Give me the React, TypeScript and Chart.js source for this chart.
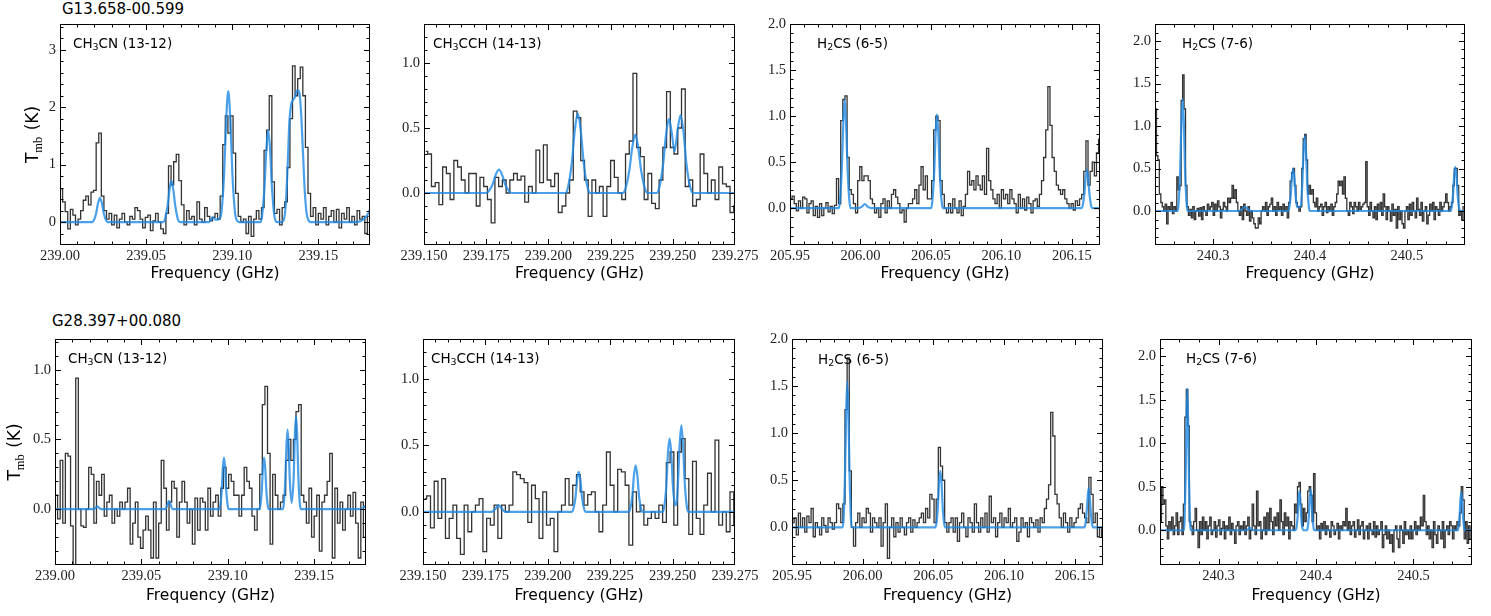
import { useEffect, useRef } from "react";
import { Chart, registerables } from "chart.js";

Chart.register(...registerables);

// Width of one spectral channel in GHz; spectra are listed channel by channel (K).
const CHANNEL_GHZ = 0.0015;

const SOURCE_TOP = "G13.658-00.599";
const SOURCE_BOTTOM = "G28.397+00.080";

// "_x" marks x as a subscript
const LABEL_CH3CN = "CH_3CN (13-12)";
const LABEL_CH3CCH = "CH_3CCH (14-13)";
const LABEL_H2CS_65 = "H_2CS (6-5)";
const LABEL_H2CS_76 = "H_2CS (7-6)";

const X_TITLE = "Frequency (GHz)";

// Tick values
const xTicksCh3cn = [239.0, 239.05, 239.1, 239.15];
const xTicksCh3cch = [239.15, 239.175, 239.2, 239.225, 239.25, 239.275];
const xTicksH2cs65 = [205.95, 206.0, 206.05, 206.1, 206.15];
const xTicksH2cs76 = [240.3, 240.4, 240.5];
const yTicksWhole = [0, 1, 2, 3];
const yTicksLow = [0, 0.5, 1.0];
const yTicksHigh = [0, 0.5, 1.0, 1.5, 2.0];

// ---------------- G13.658-00.599 ----------------
const g13Ch3cnStart = 239.0;
const g13Ch3cn = [
  0.58, 0.35, 0.18, -0.12, 0.22, 0.12, -0.05, 0.05, 0.2, 0.38,
  0.45, 0.3, 0.52, 0.55, 1.38, 1.55, 0.45, 0.2, 0.05, 0.15,
  -0.05, 0.12, -0.1, 0.05, 0.15, 0.0, -0.05, 0.1, 0.05, 0.25,
  0.2, 0.05, -0.1, 0.08, 0.12, -0.15, 0.02, 0.15, 0.0, -0.12,
  -0.2, 0.15, 0.98, 0.65, 1.05, 1.18, 0.72, 0.3, -0.05, 0.2,
  0.05, 0.1, -0.05, 0.35, 0.05, 0.0, 0.25, 0.1, 0.02, 0.08,
  0.15, 0.05, 0.45, 1.35, 1.85, 1.55, 1.85, 1.2, 0.5, 0.1,
  0.0, 0.05, -0.2, 0.1, -0.25, 0.05, 0.2, 0.05, 0.25, 1.25,
  1.6, 2.2, 0.7, 0.15, 0.22, -0.05, 0.25, 0.35, 0.95, 1.8,
  2.72, 2.2, 2.5, 2.7, 2.2, 1.3, 0.5, 0.1, 0.25, -0.05,
  0.15, 0.05, 0.25, -0.05, 0.1, 0.2, 0.0, 0.22, -0.1, 0.15,
  0.05, 0.25, 0.0, 0.1, -0.05, 0.2, 0.05, 0.1, -0.2, 0.1,
];
const g13Ch3cnModel: [number, number][] = [
  [239.0, 0], [239.0187, 0], [239.0196, 0.025], [239.021, 0.155], [239.0221, 0.33], [239.0232, 0.42],
  [239.0243, 0.33], [239.0254, 0.155], [239.0268, 0.025], [239.0277, 0],
  [239.06, 0], [239.0609, 0.045], [239.0624, 0.27], [239.0636, 0.56], [239.0647, 0.72],
  [239.0658, 0.56], [239.067, 0.27], [239.0685, 0.045], [239.0695, 0],
  [239.0865, 0], [239.0877, 0.05], [239.0887, 0.08], [239.0899, 0.05], [239.0912, 0.04],
  [239.0927, 0.06], [239.0937, 0.16], [239.0953, 0.84], [239.0965, 1.78], [239.0977, 2.28],
  [239.0989, 1.78], [239.1001, 0.84], [239.1017, 0.14], [239.1027, 0.03], [239.104, 0],
  [239.1164, 0], [239.1173, 0.1], [239.1187, 0.59], [239.1198, 1.25], [239.1209, 1.6],
  [239.122, 1.25], [239.1231, 0.59], [239.1245, 0.1], [239.1254, 0.01], [239.1262, 0],
  [239.1288, 0], [239.13, 0.04], [239.1312, 0.35], [239.1322, 1.0], [239.1332, 1.75],
  [239.1342, 2.05], [239.1352, 2.12], [239.1365, 2.18], [239.1378, 2.3], [239.139, 2.25],
  [239.14, 1.9], [239.1411, 1.2], [239.1421, 0.55], [239.1432, 0.15], [239.1445, 0.02], [239.1455, 0],
  [239.172, 0], [239.176, 0.04], [239.179, 0.15], [239.18, 0.22],
];

const g13Ch3cchStart = 239.15;
const g13Ch3cch = [
  0.32, 0.3, 0.05, 0.08, -0.09, 0.2, 0.15, -0.05, 0.25, 0.2,
  0.1, 0.0, 0.15, 0.15, -0.1, 0.12, 0.05, -0.05, -0.23, 0.12,
  0.05, 0.1, 0.0, 0.1, 0.15, 0.1, 0.13, -0.07, 0.05, 0.0,
  0.33, 0.08, 0.37, 0.1, 0.05, 0.15, -0.15, -0.1, 0.0, 0.1,
  0.63, 0.58, 0.25, 0.1, -0.18, 0.1, 0.0, 0.05, -0.18, 0.05,
  0.25, 0.12, 0.0, -0.05, 0.3, 0.4, 0.92, 0.35, 0.28, -0.05,
  0.15, -0.08, -0.12, 0.1, 0.35, 0.78, 0.35, 0.3, 0.5, 0.8,
  0.05, 0.1, -0.1, -0.05, 0.3, 0.15, 0.0, 0.1, -0.05, 0.2,
  0.07, 0.05, -0.15, -0.1,
];
const g13Ch3cchModel: [number, number][] = [
  [239.15, 0], [239.1749, 0], [239.1759, 0.011], [239.1776, 0.067], [239.1788, 0.14], [239.1801, 0.18],
  [239.1814, 0.14], [239.1826, 0.067], [239.1843, 0.011], [239.1853, 0],
  [239.2068, 0], [239.2078, 0.038], [239.2094, 0.23], [239.2106, 0.48], [239.2118, 0.61],
  [239.213, 0.48], [239.2142, 0.23], [239.2158, 0.038], [239.2168, 0],
  [239.2299, 0], [239.2309, 0.028], [239.2325, 0.17], [239.2337, 0.35], [239.2349, 0.45],
  [239.2361, 0.35], [239.2373, 0.17], [239.2389, 0.028], [239.2399, 0],
  [239.2435, 0], [239.2445, 0.036], [239.2461, 0.22], [239.2473, 0.45], [239.2485, 0.57],
  [239.2496, 0.46], [239.2507, 0.32], [239.2519, 0.48], [239.2531, 0.6], [239.2543, 0.47],
  [239.2555, 0.22], [239.2571, 0.038], [239.2581, 0], [239.275, 0],
];

const g13H2cs65Start = 205.95;
const g13H2cs65 = [
  0.1, 0.13, 0.05, -0.03, 0.08, 0.0, 0.12, 0.1, -0.05, 0.05,
  0.08, -0.08, 0.02, -0.1, 0.05, -0.08, 0.0, 0.06, -0.04, 0.02,
  -0.06, 0.03, 0.32, 0.05, 0.95, 1.18, 1.22, 0.55, 0.2, 0.15,
  0.05, -0.05, 0.3, 0.45, 0.3, 0.35, 0.35, 0.3, 0.1, 0.05,
  -0.05, 0.0, -0.1, 0.05, 0.1, -0.05, 0.08, 0.0, 0.15, 0.2,
  0.12, 0.05, -0.05, -0.02, -0.15, 0.0, 0.05, 0.05, 0.1, 0.2,
  0.05, 0.25, 0.45, 0.2, 0.35, 0.1, 0.1, 0.3, 0.85, 1.0,
  0.95, 0.3, 0.15, 0.0, -0.05, 0.05, -0.05, 0.1, 0.0, -0.05,
  0.08, -0.08, 0.02, 0.15, 0.4, 0.25, 0.3, 0.2, 0.35, 0.25,
  0.2, 0.35, 0.15, 0.65, 0.3, 0.2, 0.1, 0.05, 0.15, 0.0,
  0.2, 0.1, 0.15, 0.05, 0.2, 0.1, 0.05, -0.05, 0.15, 0.0,
  0.1, -0.02, 0.12, 0.05, -0.05, 0.08, 0.1, 0.02, 0.15, 0.3,
  0.55, 0.85, 1.32, 0.9, 0.55, 0.4, 0.25, 0.2, 0.15, 0.2,
  0.1, 0.05, 0.0, 0.05, -0.02, 0.08, 0.03, 0.1, 0.15, 0.4,
  0.73, 0.25, 0.4, 0.5, 0.35, 0.6, 0.75,
];
const g13H2cs65Model: [number, number][] = [
  [205.95, 0], [205.9846, 0], [205.9854, 0.07], [205.9868, 0.44], [205.9878, 0.92], [205.9888, 1.18],
  [205.9898, 0.92], [205.9908, 0.44], [205.9922, 0.07], [205.993, 0],
  [205.9985, 0], [206.0011, 0.017], [206.0031, 0.045], [206.0051, 0.017], [206.0077, 0],
  [206.0501, 0], [206.0509, 0.06], [206.0523, 0.38], [206.0533, 0.8], [206.0543, 1.02],
  [206.0553, 0.8], [206.0563, 0.38], [206.0577, 0.06], [206.0585, 0],
  [206.157, 0], [206.1577, 0.025], [206.1589, 0.155], [206.1598, 0.33], [206.1607, 0.42],
  [206.1616, 0.33], [206.1625, 0.155], [206.1637, 0.025], [206.1644, 0], [206.17, 0],
];

const g13H2cs76Start = 240.24;
const g13H2cs76 = [
  1.2, 0.65, 0.6, 0.2, 0.1, 0.05, 0.0, 0.08, -0.15, 0.05,
  0.02, 0.1, -0.03, 0.05, 0.0, 0.4, 0.25, 0.3, 1.3, 1.6,
  1.2, 0.3, 0.05, -0.05, 0.02, -0.08, 0.05, -0.1, 0.0, 0.03,
  -0.06, 0.04, -0.1, 0.05, 0.0, -0.05, 0.08, 0.02, 0.05, 0.1,
  -0.05, 0.08, 0.0, 0.12, 0.05, -0.08, 0.02, 0.1, 0.05, 0.0,
  0.15, 0.1, 0.15, 0.3, 0.15, 0.25, 0.1, 0.0, -0.05, 0.05,
  -0.1, 0.08, 0.0, -0.05, 0.05, -0.12, 0.0, -0.08, -0.15, -0.2,
  -0.2, -0.08, -0.15, 0.0, 0.05, 0.0, 0.1, -0.05, 0.05, 0.08,
  0.15, 0.0, 0.05, -0.05, 0.1, 0.02, 0.05, -0.05, 0.08, 0.0,
  0.05, -0.08, 0.1, 0.35, 0.45, 0.5, 0.3, 0.1, 0.05, 0.0,
  0.05, 0.5, 0.85, 0.9, 0.6, 0.2, 0.3, 0.2, 0.25, 0.1,
  0.05, 0.15, 0.0, 0.05, 0.08, -0.05, 0.05, 0.1, -0.02, 0.05,
  0.0, 0.08, -0.05, 0.05, 0.1, 0.2, 0.35, 0.3, 0.35, 0.2,
  0.4, 0.15, 0.0, -0.05, 0.1, 0.05, -0.03, 0.1, 0.05, 0.0,
  0.1, 0.02, 0.05, 0.08, 0.1, 0.58, 0.05, -0.05, 0.1, 0.0,
  -0.08, 0.05, -0.1, 0.08, 0.0, 0.1, -0.05, 0.2, 0.05, -0.1,
  0.05, 0.0, -0.12, 0.08, -0.05, 0.02, -0.2, 0.05, -0.1, 0.0,
  -0.15, -0.2, 0.0, 0.05, -0.1, 0.08, -0.05, 0.1, 0.0, -0.08,
  0.15, 0.02, -0.05, 0.1, -0.12, 0.0, 0.05, -0.15, -0.05, 0.08,
  0.0, 0.1, -0.1, 0.05, 0.02, -0.05, 0.1, 0.0, 0.05, 0.1,
  0.2, 0.1, 0.0, 0.05, 0.1, 0.3, 0.5, 0.5, 0.3, -0.05,
  0.0, -0.1, 0.05,
];
const g13H2cs76Model: [number, number][] = [
  [240.24, 0], [240.2633, 0], [240.2643, 0.08], [240.266, 0.49], [240.2672, 1.03], [240.2685, 1.32],
  [240.2698, 1.03], [240.271, 0.49], [240.2727, 0.08], [240.2737, 0],
  [240.3266, 0], [240.3298, 0.02], [240.3328, 0.05], [240.3358, 0.02], [240.339, 0],
  [240.3774, 0], [240.3784, 0.03], [240.3801, 0.185], [240.3813, 0.39], [240.3826, 0.5],
  [240.3839, 0.39], [240.3851, 0.185], [240.3868, 0.05], [240.3884, 0.04], [240.3904, 0.06],
  [240.3921, 0.33], [240.3933, 0.69], [240.3946, 0.88], [240.3959, 0.69], [240.3971, 0.33],
  [240.3988, 0.055], [240.3998, 0],
  [240.545, 0], [240.546, 0.03], [240.5476, 0.19], [240.5488, 0.41], [240.55, 0.52],
  [240.5512, 0.41], [240.5524, 0.19], [240.554, 0.03], [240.555, 0], [240.56, 0],
];

// ---------------- G28.397+00.080 ----------------
const g28Ch3cnStart = 239.0;
const g28Ch3cn = [
  0.1, -0.07, 0.35, -0.1, 0.4, 0.38, -0.12, -0.4, 0.94, 0.0,
  -0.12, -0.13, 0.0, 0.3, 0.25, -0.1, 0.2, 0.1, 0.25, -0.05,
  0.05, 0.1, -0.1, 0.0, -0.05, 0.05, 0.0, 0.05, 0.15, -0.25,
  -0.1, 0.05, -0.2, -0.28, -0.15, -0.05, -0.15, -0.35, 0.05, -0.35,
  -0.1, 0.35, 0.15, -0.15, 0.05, 0.2, 0.15, -0.2, 0.05, 0.2,
  0.05, -0.1, 0.0, -0.25, 0.08, -0.15, 0.08, 0.05, -0.15, 0.15,
  -0.05, 0.05, 0.1, -0.05, 0.15, 0.3, 0.15, 0.25, 0.2, 0.1,
  0.1, -0.05, 0.1, 0.3, 0.2, 0.15, -0.05, -0.15, 0.0, 0.25,
  0.75, 0.88, 0.4, -0.25, 0.25, 0.1, 0.0, 0.05, 0.1, 0.35,
  0.5, 0.35, 0.5, 0.7, 0.75, 0.1, 0.05, -0.1, 0.15, -0.2,
  -0.05, 0.1, -0.3, 0.05, 0.1, 0.2, 0.4, -0.35, 0.15, -0.1,
  0.05, -0.15, 0.0, 0.1, -0.05, 0.12, -0.1, -0.35, 0.05, -0.2,
];
const g28Ch3cnModel: [number, number][] = [
  [239.0, 0], [239.0225, 0], [239.0235, 0.01], [239.0245, 0.02], [239.0255, 0.01], [239.0265, 0],
  [239.064, 0], [239.065, 0.03], [239.066, 0.06], [239.067, 0.03], [239.068, 0],
  [239.095, 0], [239.0956, 0.022], [239.0965, 0.137], [239.0971, 0.29], [239.0978, 0.37],
  [239.0985, 0.29], [239.0991, 0.137], [239.1, 0.022], [239.1006, 0],
  [239.1182, 0], [239.1188, 0.022], [239.1197, 0.137], [239.1203, 0.29], [239.121, 0.37],
  [239.1217, 0.29], [239.1223, 0.137], [239.1232, 0.022], [239.1238, 0],
  [239.1318, 0], [239.1324, 0.034], [239.1333, 0.21], [239.1339, 0.44], [239.1346, 0.57],
  [239.1353, 0.44], [239.1359, 0.21], [239.137, 0.045], [239.1382, 0.25], [239.1388, 0.52],
  [239.1395, 0.67], [239.1402, 0.52], [239.1408, 0.25], [239.1417, 0.04], [239.1423, 0],
  [239.177, 0], [239.18, 0.03],
];

const g28Ch3cchStart = 239.15;
const g28Ch3cch = [
  0.1, 0.12, -0.12, 0.23, -0.05, 0.25, -0.2, -0.05, 0.05, -0.2,
  -0.32, 0.05, -0.15, 0.0, 0.05, 0.1, -0.3, -0.05, -0.1, 0.05,
  -0.2, 0.05, 0.0, 0.05, 0.3, 0.28, 0.25, 0.22, -0.08, 0.2,
  0.1, -0.2, 0.15, -0.1, -0.05, -0.3, 0.0, 0.05, 0.25, 0.05,
  0.2, 0.28, 0.15, 0.05, 0.13, 0.15, 0.0, -0.15, 0.05, 0.45,
  0.2, 0.0, 0.32, 0.3, 0.2, -0.25, 0.15, 0.0, 0.05, -0.1,
  -0.05, 0.0, -0.05, 0.05, -0.08, 0.37, 0.45, -0.1, 0.45, 0.55,
  0.25, -0.17, 0.38, -0.05, -0.17, 0.05, 0.29, 0.0, 0.54, -0.1,
  0.0, -0.15, 0.15, -0.1,
];
const g28Ch3cchModel: [number, number][] = [
  [239.15, 0], [239.1775, 0], [239.1789, 0.02], [239.1803, 0.05], [239.1817, 0.02], [239.1831, 0],
  [239.2096, 0], [239.2102, 0.018], [239.2111, 0.11], [239.2117, 0.235], [239.2124, 0.3],
  [239.2131, 0.235], [239.2137, 0.11], [239.2146, 0.018], [239.2152, 0],
  [239.2324, 0], [239.233, 0.021], [239.2339, 0.13], [239.2345, 0.27], [239.2352, 0.35],
  [239.2359, 0.27], [239.2365, 0.13], [239.2374, 0.021], [239.238, 0],
  [239.246, 0], [239.2466, 0.033], [239.2475, 0.2], [239.2481, 0.43], [239.2488, 0.55],
  [239.2495, 0.43], [239.2501, 0.2], [239.251, 0.05], [239.2516, 0.07], [239.2522, 0.24],
  [239.2528, 0.5], [239.2535, 0.65], [239.2542, 0.5], [239.2548, 0.24], [239.2557, 0.04],
  [239.2563, 0], [239.275, 0],
];

const g28H2cs65Start = 205.95;
const g28H2cs65 = [
  0.05, 0.1, -0.08, 0.15, 0.0, 0.1, -0.05, 0.12, 0.05, 0.2,
  -0.1, 0.05, 0.0, -0.08, 0.1, 0.02, -0.05, 0.1, 0.05, -0.02,
  0.05, 0.25, 0.2, 0.05, 0.25, 1.25, 1.8, 0.6, 0.0, -0.2,
  0.05, 0.15, 0.0, 0.1, 0.05, 0.2, 0.15, -0.05, 0.1, 0.05,
  0.0, 0.1, -0.2, 0.05, 0.25, -0.33, 0.0, 0.1, -0.1, 0.05,
  -0.05, 0.1, 0.0, -0.08, 0.05, 0.1, -0.05, 0.08, 0.0, 0.05,
  0.1, 0.15, 0.05, 0.2, 0.1, 0.35, 0.3, 0.05, 0.3, 0.85,
  0.65, 0.5, 0.05, -0.05, 0.05, 0.1, -0.05, 0.1, -0.15, 0.05,
  0.15, 0.0, -0.1, 0.1, 0.05, -0.05, 0.25, 0.05, -0.05, 0.1,
  0.0, 0.15, -0.05, 0.33, 0.05, 0.1, -0.1, 0.05, 0.15, 0.0,
  0.1, 0.05, 0.2, 0.0, 0.05, 0.1, -0.15, -0.05, 0.1, 0.0,
  0.05, -0.1, 0.1, 0.05, 0.0, 0.08, -0.05, 0.1, 0.05, 0.2,
  0.3, 0.45, 1.22, 0.97, 0.35, 0.25, 0.1, 0.0, 0.15, 0.05,
  -0.05, 0.1, 0.0, 0.05, 0.1, 0.2, 0.25, 0.15, 0.1, 0.05,
  0.53, 0.35, 0.05, 0.15, -0.1, 0.0, -0.1,
];
const g28H2cs65Model: [number, number][] = [
  [205.95, 0], [205.9858, 0], [205.9865, 0.09], [205.9875, 0.57], [205.9883, 1.21], [205.9891, 1.55],
  [205.9899, 1.21], [205.9907, 0.57], [205.9917, 0.09], [205.9924, 0],
  [206.0514, 0], [206.0521, 0.036], [206.0532, 0.22], [206.054, 0.47], [206.0549, 0.6],
  [206.0558, 0.47], [206.0566, 0.22], [206.0577, 0.036], [206.0584, 0],
  [206.1568, 0], [206.1574, 0.025], [206.1584, 0.155], [206.1592, 0.33], [206.1599, 0.42],
  [206.1606, 0.33], [206.1614, 0.155], [206.1624, 0.025], [206.163, 0], [206.17, 0],
];

const g28H2cs76Start = 240.24;
const g28H2cs76 = [
  0.1, 0.5, 0.3, 0.35, 0.05, -0.1, 0.1, 0.0, 0.15, -0.05,
  0.05, 0.2, -0.05, 0.1, 0.15, -0.05, 0.3, 1.3, 1.62, 1.2,
  0.1, 0.05, -0.05, 0.1, 0.25, 0.0, -0.2, 0.1, -0.05, 0.15,
  0.0, 0.1, -0.1, 0.05, 0.15, -0.05, 0.0, 0.1, -0.08, 0.05,
  0.12, -0.05, 0.02, 0.1, -0.1, 0.05, 0.0, 0.15, -0.05, 0.08,
  0.0, -0.15, 0.05, 0.1, -0.05, 0.05, 0.0, 0.1, -0.05, 0.05,
  0.15, -0.1, 0.0, 0.3, 0.05, -0.05, 0.45, 0.05, 0.1, -0.1,
  0.0, 0.15, -0.05, 0.2, 0.0, 0.25, 0.1, -0.05, 0.15, 0.05,
  0.2, 0.0, 0.35, 0.1, -0.05, 0.2, 0.05, 0.15, -0.1, 0.1,
  0.05, 0.0, 0.3, 0.2, 0.5, 0.55, 0.3, 0.05, 0.25, 0.1,
  0.2, 0.45, 0.5, 0.4, 0.1, 0.65, 0.2, 0.0, 0.05, -0.1,
  0.08, 0.0, 0.1, -0.05, 0.05, 0.0, -0.08, 0.1, 0.05, -0.05,
  0.0, 0.08, -0.1, 0.05, 0.0, 0.1, 0.05, 0.25, 0.0, 0.1,
  -0.05, 0.05, 0.1, -0.08, 0.0, 0.12, -0.05, 0.05, 0.1, -0.1,
  0.0, 0.05, -0.1, 0.08, 0.0, -0.05, 0.1, -0.08, 0.05, -0.05,
  0.0, 0.1, -0.2, -0.05, 0.05, -0.1, 0.0, -0.15, -0.05, -0.25,
  0.0, 0.05, -0.1, -0.2, 0.05, 0.0, -0.15, 0.1, -0.05, 0.0,
  -0.1, 0.05, -0.1, 0.0, 0.1, -0.05, 0.05, 0.0, 0.15, 0.05,
  0.4, 0.1, -0.05, 0.05, -0.1, 0.0, -0.2, 0.1, -0.05, -0.15,
  0.05, 0.0, -0.1, 0.1, -0.2, 0.0, 0.05, -0.05, 0.1, 0.05,
  -0.1, 0.05, 0.0, 0.1, 0.05, 0.2, 0.5, 0.35, -0.1, 0.1,
  -0.15, 0.05, -0.1,
];
const g28H2cs76Model: [number, number][] = [
  [240.24, 0], [240.2645, 0], [240.2652, 0.1], [240.2663, 0.6], [240.2672, 1.27], [240.268, 1.63],
  [240.2688, 1.27], [240.2697, 0.6], [240.2708, 0.1], [240.2715, 0],
  [240.3293, 0], [240.3323, 0.03], [240.3353, 0],
  [240.3792, 0], [240.38, 0.027], [240.3812, 0.17], [240.3821, 0.35], [240.383, 0.45],
  [240.3839, 0.35], [240.3848, 0.17], [240.386, 0.027], [240.3868, 0],
  [240.3907, 0], [240.3915, 0.028], [240.3927, 0.17], [240.3936, 0.37], [240.3945, 0.47],
  [240.3954, 0.37], [240.3963, 0.17], [240.3975, 0.028], [240.3983, 0],
  [240.5452, 0], [240.546, 0.026], [240.5472, 0.16], [240.5481, 0.34], [240.549, 0.44],
  [240.5499, 0.34], [240.5508, 0.16], [240.552, 0.026], [240.5528, 0], [240.56, 0],
];

// ---------------- layout ----------------
const PAD_RIGHT = 30;
const PAD_BOTTOM = 46;
const SANS = '"DejaVu Sans", sans-serif';
const SERIF = '"Liberation Serif", serif';

type Axis = { min: number; max: number; ticks: number[]; decimals: number; minor: number };
type PanelSpec = {
  frame: { left: number; top: number; width: number; height: number };
  canvasLeft: number;
  canvasTop: number;
  x: Axis;
  y: Axis;
  start: number;
  values: number[];
  model: [number, number][];
  label: string;
  labelDx: number;
  labelDy: number;
  yTitleX?: number;
  xTitleGap: number;
};

const TOP_ROW = { top: 24, height: 221, canvasTop: 0, xTitleGap: 29 };
const BOTTOM_ROW = { top: 339, height: 226, canvasTop: 318, xTitleGap: 31 };

const xCh3cn = { min: 239.0, max: 239.18, ticks: xTicksCh3cn, decimals: 2, minor: 0.01 };
const xCh3cch = { min: 239.15, max: 239.275, ticks: xTicksCh3cch, decimals: 3, minor: 0.005 };
const xH2cs65 = { min: 205.95, max: 206.17, ticks: xTicksH2cs65, decimals: 2, minor: 0.01 };
const xH2cs76 = { min: 240.24, max: 240.56, ticks: xTicksH2cs76, decimals: 1, minor: 0.02 };

function panel(
  row: typeof TOP_ROW,
  left: number,
  width: number,
  firstColumn: boolean,
  rest: Omit<PanelSpec, "frame" | "canvasLeft" | "canvasTop" | "xTitleGap">
): PanelSpec {
  return {
    frame: { left, top: row.top, width, height: row.height },
    canvasLeft: firstColumn ? 0 : left - 46,
    canvasTop: row.canvasTop,
    xTitleGap: row.xTitleGap,
    ...rest,
  };
}

const PANELS: PanelSpec[] = [
  panel(TOP_ROW, 60, 310, true, {
    x: xCh3cn,
    y: { min: -0.4, max: 3.45, ticks: yTicksWhole, decimals: 0, minor: 0.2 },
    start: g13Ch3cnStart, values: g13Ch3cn, model: g13Ch3cnModel,
    label: LABEL_CH3CN, labelDx: 13, labelDy: 20, yTitleX: 34,
  }),
  panel(TOP_ROW, 424, 311, false, {
    x: xCh3cch,
    y: { min: -0.4, max: 1.3, ticks: yTicksLow, decimals: 1, minor: 0.1 },
    start: g13Ch3cchStart, values: g13Ch3cch, model: g13Ch3cchModel,
    label: LABEL_CH3CCH, labelDx: 9, labelDy: 20,
  }),
  panel(TOP_ROW, 790, 310, false, {
    x: xH2cs65,
    y: { min: -0.4, max: 2.0, ticks: yTicksHigh, decimals: 1, minor: 0.1 },
    start: g13H2cs65Start, values: g13H2cs65, model: g13H2cs65Model,
    label: LABEL_H2CS_65, labelDx: 27, labelDy: 20,
  }),
  panel(TOP_ROW, 1155, 310, false, {
    x: xH2cs76,
    y: { min: -0.4, max: 2.2, ticks: yTicksHigh, decimals: 1, minor: 0.1 },
    start: g13H2cs76Start, values: g13H2cs76, model: g13H2cs76Model,
    label: LABEL_H2CS_76, labelDx: 27, labelDy: 20,
  }),
  panel(BOTTOM_ROW, 55, 311, true, {
    x: xCh3cn,
    y: { min: -0.4, max: 1.22, ticks: yTicksLow, decimals: 1, minor: 0.1 },
    start: g28Ch3cnStart, values: g28Ch3cn, model: g28Ch3cnModel,
    label: LABEL_CH3CN, labelDx: 13, labelDy: 20, yTitleX: 16,
  }),
  panel(BOTTOM_ROW, 423, 312, false, {
    x: xCh3cch,
    y: { min: -0.4, max: 1.3, ticks: yTicksLow, decimals: 1, minor: 0.1 },
    start: g28Ch3cchStart, values: g28Ch3cch, model: g28Ch3cchModel,
    label: LABEL_CH3CCH, labelDx: 8, labelDy: 20,
  }),
  panel(BOTTOM_ROW, 792, 311, false, {
    x: xH2cs65,
    y: { min: -0.4, max: 2.0, ticks: yTicksHigh, decimals: 1, minor: 0.1 },
    start: g28H2cs65Start, values: g28H2cs65, model: g28H2cs65Model,
    label: LABEL_H2CS_65, labelDx: 26, labelDy: 21,
  }),
  panel(BOTTOM_ROW, 1160, 312, false, {
    x: xH2cs76,
    y: { min: -0.4, max: 2.2, ticks: yTicksHigh, decimals: 1, minor: 0.1 },
    start: g28H2cs76Start, values: g28H2cs76, model: g28H2cs76Model,
    label: LABEL_H2CS_76, labelDx: 26, labelDy: 20,
  }),
];

// Text with "_x" subscripts, left aligned, vertically centred on y
function drawRichText(ctx: CanvasRenderingContext2D, text: string, x: number, y: number, size: number) {
  const parts: { t: string; sub: boolean }[] = [];
  for (let i = 0; i < text.length; i++) {
    if (text[i] === "_" && i + 1 < text.length) {
      parts.push({ t: text[i + 1], sub: true });
      i++;
    } else if (parts.length && !parts[parts.length - 1].sub) {
      parts[parts.length - 1].t += text[i];
    } else {
      parts.push({ t: text[i], sub: false });
    }
  }
  ctx.textAlign = "left";
  ctx.textBaseline = "middle";
  let cx = x;
  for (const p of parts) {
    const s = p.sub ? size * 0.7 : size;
    ctx.font = `${s}px ${SANS}`;
    ctx.fillText(p.t, cx, p.sub ? y + size * 0.25 : y);
    cx += ctx.measureText(p.t).width;
  }
}

function minorValues(axis: Axis): number[] {
  const out: number[] = [];
  const k0 = Math.ceil(axis.min / axis.minor - 1e-6);
  const k1 = Math.floor(axis.max / axis.minor + 1e-6);
  for (let k = k0; k <= k1; k++) {
    const v = k * axis.minor;
    if (!axis.ticks.some((t) => Math.abs(t - v) < axis.minor * 0.05)) out.push(v);
  }
  return out;
}

function makeDecorations(spec: PanelSpec) {
  return {
    id: "panelDecorations",
    afterDraw(chart: Chart) {
      const { ctx, chartArea } = chart;
      const xs = chart.scales.x;
      const ys = chart.scales.y;
      const L = Math.round(chartArea.left) + 0.5;
      const R = Math.round(chartArea.right) - 0.5;
      const T = Math.round(chartArea.top) + 0.5;
      const B = Math.round(chartArea.bottom) - 0.5;
      ctx.save();
      ctx.strokeStyle = "#000";
      ctx.lineWidth = 1;
      ctx.beginPath();
      const xTick = (v: number, len: number) => {
        const px = Math.round(xs.getPixelForValue(v)) + 0.5;
        if (px < L - 0.1 || px > R + 0.1) return;
        ctx.moveTo(px, B);
        ctx.lineTo(px, B - len);
        ctx.moveTo(px, T);
        ctx.lineTo(px, T + len);
      };
      const yTick = (v: number, len: number) => {
        const py = Math.round(ys.getPixelForValue(v)) + 0.5;
        if (py < T - 0.1 || py > B + 0.1) return;
        ctx.moveTo(L, py);
        ctx.lineTo(L + len, py);
        ctx.moveTo(R, py);
        ctx.lineTo(R - len, py);
      };
      spec.x.ticks.forEach((v) => xTick(v, 5.5));
      minorValues(spec.x).forEach((v) => xTick(v, 3));
      spec.y.ticks.forEach((v) => yTick(v, 5.5));
      minorValues(spec.y).forEach((v) => yTick(v, 3));
      ctx.stroke();
      ctx.strokeRect(L, T, R - L, B - T);

      // transition label
      ctx.fillStyle = "#000";
      drawRichText(ctx, spec.label, chartArea.left + spec.labelDx, chartArea.top + spec.labelDy, 13.5);

      // x-axis title
      ctx.font = `15.5px ${SANS}`;
      ctx.textAlign = "center";
      ctx.textBaseline = "middle";
      ctx.fillText(X_TITLE, (chartArea.left + chartArea.right) / 2, chartArea.bottom + spec.xTitleGap);

      // y-axis title: T_mb (K)
      if (spec.yTitleX !== undefined) {
        const cx = spec.yTitleX - spec.canvasLeft;
        const cy = (chartArea.top + chartArea.bottom) / 2;
        ctx.translate(cx, cy);
        ctx.rotate(-Math.PI / 2);
        const big = `17px ${SANS}`;
        const small = `12.5px ${SERIF}`;
        ctx.font = big;
        const wT = ctx.measureText("T").width;
        const wK = ctx.measureText(" (K)").width;
        ctx.font = small;
        const wMb = ctx.measureText("mb").width + 1;
        let x = -(wT + wMb + wK) / 2;
        ctx.textAlign = "left";
        ctx.font = big;
        ctx.fillText("T", x, 0);
        x += wT;
        ctx.font = small;
        ctx.fillText("mb", x, 5);
        x += wMb;
        ctx.font = big;
        ctx.fillText(" (K)", x, 0);
      }
      ctx.restore();
    },
  };
}

function SpectrumPanel({ spec }: { spec: PanelSpec }) {
  const ref = useRef<HTMLCanvasElement>(null);
  const padL = spec.frame.left - spec.canvasLeft;
  const padT = spec.frame.top - spec.canvasTop;
  const width = padL + spec.frame.width + PAD_RIGHT;
  const height = padT + spec.frame.height + PAD_BOTTOM;

  useEffect(() => {
    if (!ref.current) return;
    const spectrum = spec.values.map((v, i) => ({ x: spec.start + (i + 0.5) * CHANNEL_GHZ, y: v }));
    const model = spec.model.map(([x, y]) => ({ x, y }));
    const tickFont = { family: SERIF, size: 14.5 };
    const chart = new Chart(ref.current, {
      type: "line",
      data: {
        datasets: [
          {
            data: model,
            borderColor: "rgba(30,136,229,0.8)",
            borderWidth: 2.2,
            pointRadius: 0,
            cubicInterpolationMode: "monotone",
            fill: false,
            order: 0,
            clip: 0,
          },
          {
            data: spectrum,
            borderColor: "#333333",
            borderWidth: 1.3,
            pointRadius: 0,
            stepped: "middle",
            fill: false,
            order: 1,
            clip: 0,
          },
        ],
      },
      options: {
        responsive: false,
        animation: false,
        events: [],
        layout: { autoPadding: false, padding: { left: 0, top: padT, right: PAD_RIGHT, bottom: 0 } },
        plugins: { legend: { display: false }, tooltip: { enabled: false }, title: { display: false } },
        scales: {
          x: {
            type: "linear",
            min: spec.x.min,
            max: spec.x.max,
            grid: { display: false, drawTicks: false },
            border: { display: false },
            ticks: {
              autoSkip: false,
              maxRotation: 0,
              minRotation: 0,
              padding: 2,
              color: "#222",
              font: tickFont,
              callback: (v) => Number(v).toFixed(spec.x.decimals),
            },
            afterBuildTicks: (scale) => {
              scale.ticks = spec.x.ticks.map((value) => ({ value }));
            },
            afterFit: (scale) => {
              scale.height = PAD_BOTTOM;
              scale.paddingLeft = 0;
              scale.paddingRight = 0;
            },
          },
          y: {
            type: "linear",
            min: spec.y.min,
            max: spec.y.max,
            grid: { display: false, drawTicks: false },
            border: { display: false },
            ticks: {
              autoSkip: false,
              padding: 4,
              color: "#222",
              font: tickFont,
              callback: (v) => Number(v).toFixed(spec.y.decimals),
            },
            afterBuildTicks: (scale) => {
              scale.ticks = spec.y.ticks.map((value) => ({ value }));
            },
            afterFit: (scale) => {
              scale.width = padL;
              scale.paddingTop = 0;
              scale.paddingBottom = 0;
            },
          },
        },
      },
      plugins: [makeDecorations(spec)],
    } as any);
    return () => chart.destroy();
  }, [spec]);

  return (
    <canvas
      ref={ref}
      width={width}
      height={height}
      style={{ position: "absolute", left: spec.canvasLeft, top: spec.canvasTop, width, height }}
    />
  );
}

const titleStyle = {
  position: "absolute" as const,
  font: `15px ${SANS}`,
  lineHeight: "18px",
  color: "#000",
  whiteSpace: "nowrap" as const,
};

export default function App() {
  return (
    <div style={{ position: "absolute", left: 0, top: 0, width: 1491, height: 616, background: "#fff" }}>
      <div style={{ ...titleStyle, left: 62, top: 0 }}>{SOURCE_TOP}</div>
      <div style={{ ...titleStyle, left: 52, top: 312 }}>{SOURCE_BOTTOM}</div>
      {PANELS.map((p, i) => (
        <SpectrumPanel key={i} spec={p} />
      ))}
    </div>
  );
}
